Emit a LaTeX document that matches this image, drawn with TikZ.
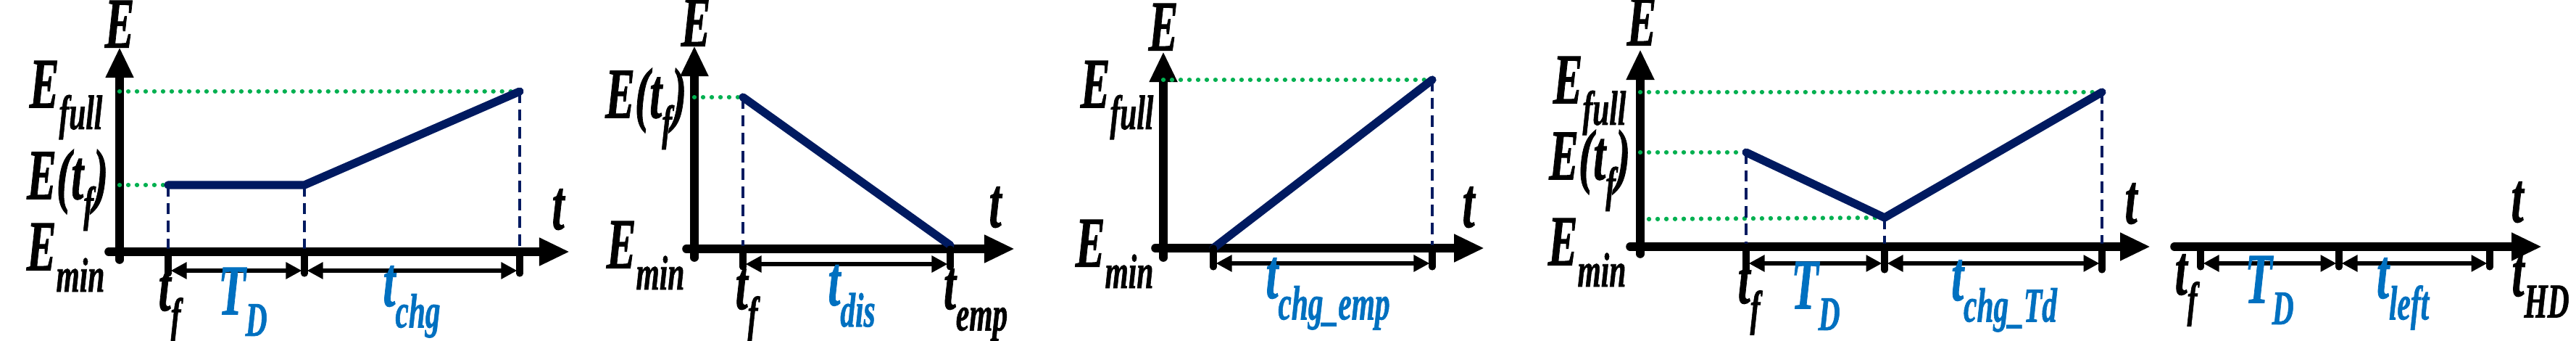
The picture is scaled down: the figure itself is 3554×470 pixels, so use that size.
\documentclass[tikz,border=0pt]{standalone}
\usepackage{fontspec}
\setmainfont{Liberation Serif}
\newfontfamily\tfont{Liberation Serif}[FakeBold=1.2]
\usetikzlibrary{arrows.meta}
\definecolor{navy}{RGB}{0,26,96}
\definecolor{grn}{RGB}{0,176,80}
\definecolor{lblue}{RGB}{0,112,192}
\newcommand{\lb}[2]{\scalebox{0.62}[1]{\tfont\bfseries\itshape\fontsize{28}{28}\selectfont #1\raisebox{-0.3em}{\fontsize{19}{19}\selectfont #2}}}
\newcommand{\lbE}{\scalebox{0.62}[1]{\tfont\bfseries\itshape\fontsize{28}{28}\selectfont E(t\raisebox{-0.3em}{\fontsize{19}{19}\selectfont f})}}
\tikzset{
 ax/.style={line width=3.3pt,line cap=round,-{Triangle[length=0.42cm,width=0.36cm]}},
 axn/.style={line width=3.3pt,line cap=round},
 curve/.style={line width=3.2pt,navy,line cap=round,line join=round},
 gdot/.style={grn,line width=1.8pt,line cap=round,dash pattern=on 0.01pt off 3.4pt},
 vdash/.style={navy,line width=1.1pt,dash pattern=on 4.5pt off 2.5pt},
 tick/.style={line width=2.6pt,line cap=round},
 dim/.style={line width=1.6pt,{Triangle[length=0.22cm,width=0.22cm]}-{Triangle[length=0.22cm,width=0.22cm]},shorten <=1pt,shorten >=1pt},
 lab/.style={inner sep=0pt,anchor=center},
 ylab/.style={inner sep=0pt,anchor=east},
 blab/.style={inner sep=0pt,anchor=center,text=lblue}
}
\begin{document}
\begin{tikzpicture}[x=0.01cm,y=-0.01cm]
\useasboundingbox (0,0) rectangle (3554,470);
% ---------- panel 1
\draw[axn] (165,358) -- (165,120);
\draw[ax] (165,300) -- (165,65);
\draw[ax] (150,347) -- (786,347);
\coordinate (p1a) at (232,255); \coordinate (p1b) at (420,255); \coordinate (p1c) at (717,126);
\draw[gdot] (165,126) -- (p1c);
\draw[gdot] (165,255) -- (p1a);
\draw[vdash] (p1a) -- (232,347); \draw[vdash] (p1b) -- (420,347); \draw[vdash] (p1c) -- (717,347);
\draw[curve] (p1a) -- (p1b) -- (p1c);
\foreach \x in {232,420,717} \draw[tick] (\x,347) -- (\x,377);
\coordinate (k1a) at (232,373); \coordinate (k1b) at (420,373); \coordinate (k1c) at (717,373);
\draw[dim] (k1a) -- (k1b); \draw[dim] (k1b) -- (k1c);
\node[lab] (E1) at (165,48) {\lb{E}{}};
\node[ylab] (Ef1) at (142,138) {\lb{E}{full}};
\node[ylab] (Et1) at (150,262) {\lbE};
\node[ylab] (Em1) at (145,355) {\lb{E}{min}};
\node[lab] (t1) at (770,303) {\lb{t}{}};
\node[lab] (tf1) at (234,422) {\lb{t}{f}};
\node[blab] (TD1) at (335,416) {\lb{T}{D}};
\node[blab] (tc1) at (568,416) {\lb{t}{chg}};
% ---------- panel 2
\draw[axn] (958,355) -- (958,120);
\draw[ax] (958,300) -- (958,63);
\draw[ax] (947,343) -- (1400,343);
\coordinate (p2a) at (1025,134); \coordinate (p2b) at (1311,338);
\draw[gdot] (958,134) -- (p2a);
\draw[vdash] (p2a) -- (1025,343);
\draw[curve] (p2a) -- (p2b);
\foreach \x in {1025,1311} \draw[tick] (\x,343) -- (\x,368);
\coordinate (k2a) at (1025,364); \coordinate (k2b) at (1311,364);
\draw[dim] (k2a) -- (k2b);
\node[lab] (E2) at (960,46) {\lb{E}{}};
\node[ylab] (Et2) at (948,150) {\lbE};
\node[ylab] (Em2) at (945,352) {\lb{E}{min}};
\node[lab] (t2) at (1373,300) {\lb{t}{}};
\node[lab] (tf2) at (1030,420) {\lb{t}{f}};
\node[blab] (td2) at (1175,408) {\lb{t}{dis}};
\node[lab] (te2) at (1346,420) {\lb{t}{emp}};
% ---------- panel 3
\draw[axn] (1605,355) -- (1605,120);
\draw[ax] (1605,300) -- (1605,71);
\draw[ax] (1594,342) -- (2048,342);
\coordinate (p3a) at (1674,342); \coordinate (p3b) at (1976,110);
\draw[gdot] (1605,110) -- (p3b);
\draw[vdash] (p3b) -- (1976,342);
\draw[curve] (p3a) -- (p3b);
\foreach \x in {1674,1976} \draw[tick] (\x,342) -- (\x,368);
\coordinate (k3a) at (1674,363); \coordinate (k3b) at (1976,363);
\draw[dim] (k3a) -- (k3b);
\node[lab] (E3) at (1605,52) {\lb{E}{}};
\node[ylab] (Ef3) at (1592,138) {\lb{E}{full}};
\node[ylab] (Em3) at (1592,350) {\lb{E}{min}};
\node[lab] (t3) at (2026,300) {\lb{t}{}};
\node[blab] (tc3) at (1832,405) {\lb{t}{chg\_emp}};
% ---------- panel 4
\draw[axn] (2263,350) -- (2263,120);
\draw[ax] (2263,300) -- (2263,68);
\draw[ax] (2249,340) -- (2967,340);
\coordinate (p4a) at (2409,210); \coordinate (p4b) at (2600,300); \coordinate (p4c) at (2900,127);
\draw[gdot] (2263,127) -- (p4c);
\draw[gdot] (2263,210) -- (p4a);
\draw[gdot] (2275,302) -- (p4b);
\draw[vdash] (p4a) -- (2409,340); \draw[vdash] (p4b) -- (2600,340); \draw[vdash] (p4c) -- (2900,340);
\draw[curve] (p4a) -- (p4b) -- (p4c);
\foreach \x in {2409,2600,2900} \draw[tick] (\x,340) -- (\x,372);
\coordinate (k4a) at (2409,363); \coordinate (k4b) at (2600,363); \coordinate (k4c) at (2900,363);
\draw[dim] (k4a) -- (k4b); \draw[dim] (k4b) -- (k4c);
\node[lab] (E4) at (2265,45) {\lb{E}{}};
\node[ylab] (Ef4) at (2244,132) {\lb{E}{full}};
\node[ylab] (Et4) at (2250,235) {\lbE};
\node[ylab] (Em4) at (2244,348) {\lb{E}{min}};
\node[lab] (t4) at (2940,295) {\lb{t}{}};
\node[lab] (tf4) at (2413,412) {\lb{t}{f}};
\node[blab] (TD4) at (2505,408) {\lb{T}{D}};
\node[blab] (tc4) at (2765,408) {\lb{t}{chg\_Td}};
% ---------- panel 5
\draw[ax] (3000,340) -- (3507,340);
\foreach \x in {3036,3227,3435} \draw[tick] (\x,340) -- (\x,368);
\coordinate (k5a) at (3036,363); \coordinate (k5b) at (3227,363); \coordinate (k5c) at (3435,363);
\draw[dim] (k5a) -- (k5b); \draw[dim] (k5b) -- (k5c);
\node[lab] (t5) at (3473,293) {\lb{t}{}};
\node[lab] (tf5) at (3016,400) {\lb{t}{f}};
\node[blab] (TD5) at (3131,400) {\lb{T}{D}};
\node[blab] (tl5) at (3315,405) {\lb{t}{left}};
\node[lab] (th5) at (3505,395) {\lb{t}{HD}};
\end{tikzpicture}
\end{document}
